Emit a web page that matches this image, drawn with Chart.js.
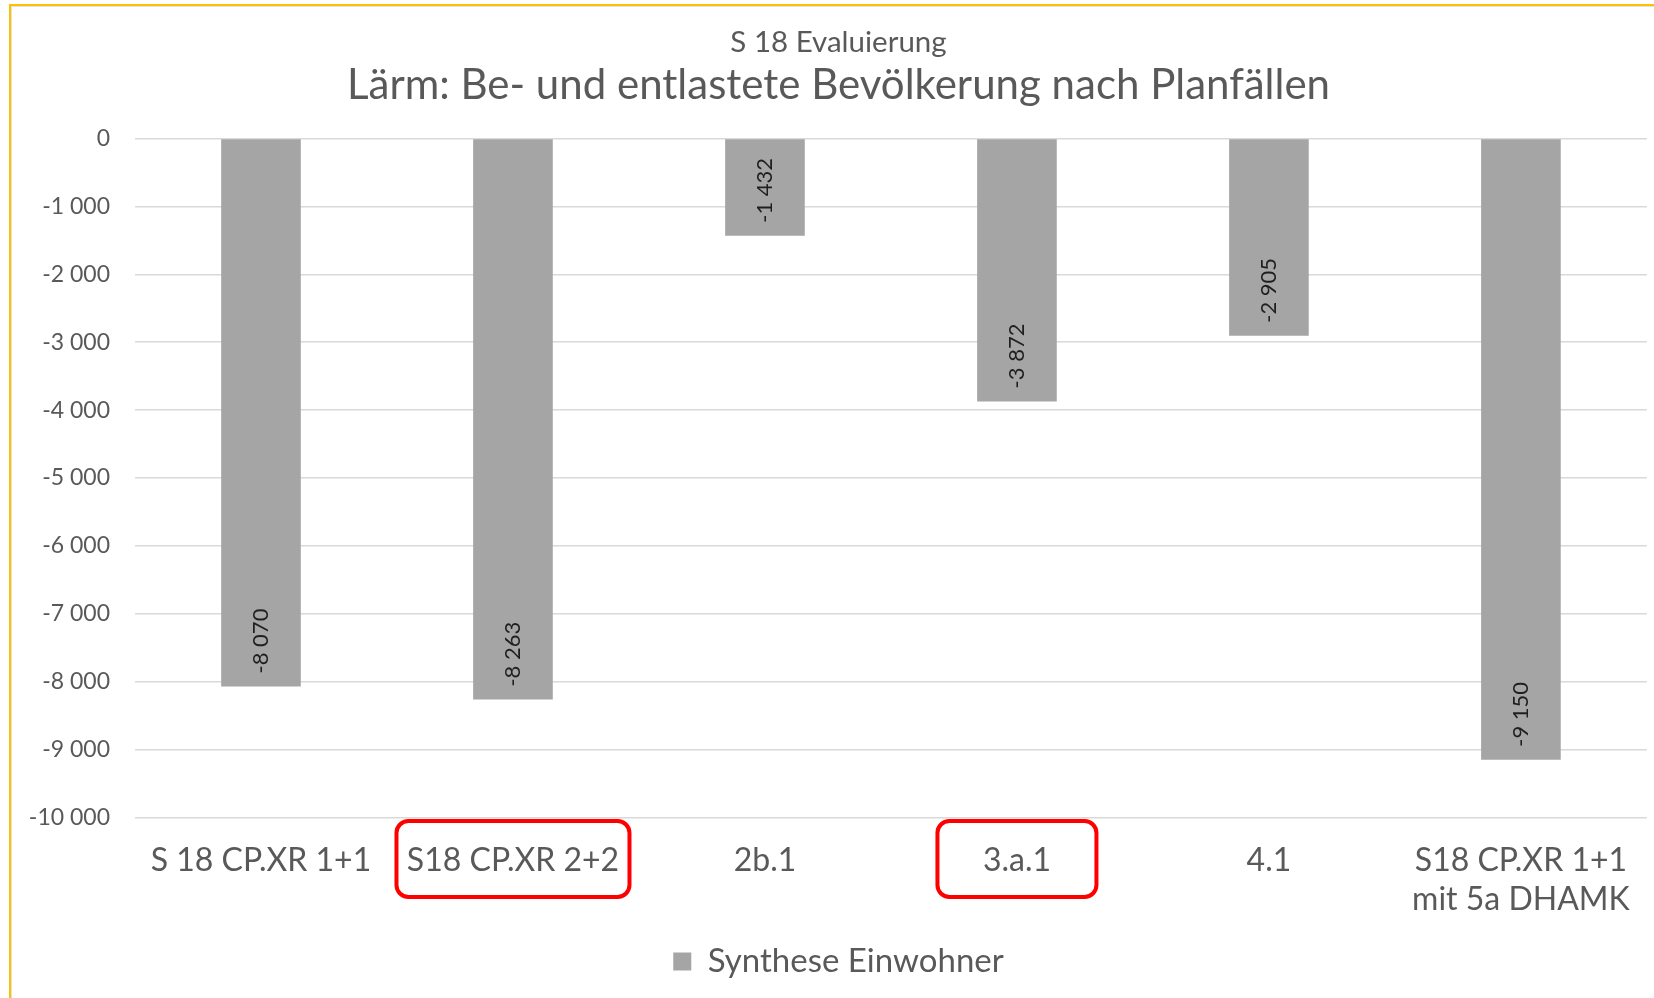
<!DOCTYPE html>
<html>
<head>
<meta charset="utf-8">
<script src="https://cdn.jsdelivr.net/npm/chart.js@4.4.1/dist/chart.umd.min.js"></script>
<style>
  html, body { margin: 0; padding: 0; background: #fff; overflow: hidden; }
  #wrap { position: relative; width: 1654px; height: 998px; }
  #frame {
    position: absolute; left: 9px; top: 4px; width: 1700px; height: 1100px;
    border-top: 2px solid #FFC000; border-left: 2px solid #FFC000;
    box-shadow: inset 1px 1px 0 #DCE3EA; pointer-events: none;
  }
  canvas { position: absolute; left: 0; top: 0; }
</style>
</head>
<body>
<div id="wrap">
  <div id="frame"></div>
  <canvas id="chart" width="1654" height="998"></canvas>
</div>
<script>
// Planfälle (x axis)
const categories = ['S 18 CP.XR 1+1', 'S18 CP.XR 2+2', '2b.1', '3.a.1', '4.1', ['S18 CP.XR 1+1', 'mit 5a DHAMK']];
// Synthese Einwohner
const synthese = [-8070, -8263, -1432, -3872, -2905, -9150];
// y axis range
const yMin = -10000;
const yMax = 0;
const yStep = 1000;
// categories marked with a red frame
const highlighted = ['S18 CP.XR 2+2', '3.a.1'];

const FONT = 'Lato';
const TEXT = '#595959';

const fmt = (v) => {
  const s = String(Math.abs(v)).replace(/\B(?=(\d{3})+(?!\d))/g, ' ');
  return (v < 0 ? '-' : '') + s;
};

// rotated value labels inside the bar end
const barLabels = {
  id: 'barLabels',
  afterDatasetsDraw(chart) {
    const { ctx } = chart;
    const meta = chart.getDatasetMeta(0);
    ctx.save();
    ctx.font = `22px ${FONT}`;
    ctx.fillStyle = '#1f1f1f';
    ctx.textAlign = 'left';
    ctx.textBaseline = 'middle';
    meta.data.forEach((bar, i) => {
      ctx.save();
      ctx.translate(bar.x, bar.y - 13);
      ctx.rotate(-Math.PI / 2);
      ctx.fillText(fmt(synthese[i]), 0, 0);
      ctx.restore();
    });
    ctx.restore();
  }
};

// red rounded frames round some category labels
const highlightBoxes = {
  id: 'highlightBoxes',
  afterDraw(chart, args, opts) {
    const { ctx } = chart;
    const x = chart.scales.x;
    ctx.save();
    ctx.strokeStyle = opts.color;
    ctx.lineWidth = opts.lineWidth;
    highlighted.forEach((name) => {
      const idx = categories.indexOf(name);
      const w = opts.widths[name];
      const cx = x.getPixelForTick(idx);
      const cy = x.top + opts.offsetY;
      ctx.beginPath();
      ctx.roundRect(cx - w / 2, cy - opts.height / 2, w, opts.height, opts.radius);
      ctx.stroke();
    });
    ctx.restore();
  }
};

new Chart(document.getElementById('chart'), {
  type: 'bar',
  data: {
    labels: categories,
    datasets: [{
      label: 'Synthese Einwohner',
      data: synthese,
      backgroundColor: '#A5A5A5',
      borderWidth: 0,
      categoryPercentage: 1,
      barPercentage: 0.316,
    }]
  },
  options: {
    responsive: false,
    animation: false,
    devicePixelRatio: 1,
    layout: { padding: { left: 26, right: 3, top: 0, bottom: 10 } },
    plugins: {
      title: {
        display: true,
        text: 'S 18 Evaluierung',
        color: TEXT,
        font: { family: FONT, size: 29.5, weight: 'normal', lineHeight: 1 },
        padding: { top: 27.5, bottom: 0 },
      },
      subtitle: {
        display: true,
        text: 'Lärm: Be- und entlastete Bevölkerung nach Planfällen',
        color: TEXT,
        font: { family: FONT, size: 42, weight: 'normal', lineHeight: 1 },
        padding: { top: 7.5, bottom: 32 },
      },
      legend: {
        position: 'bottom',
        labels: {
          color: TEXT,
          font: { family: FONT, size: 33 },
          boxWidth: 18,
          boxHeight: 18,
          padding: 10,
        },
      },
      tooltip: { enabled: false },
      highlightBoxes: {
        color: '#FF0000',
        lineWidth: 4,
        height: 76,
        radius: 12,
        offsetY: 41.5,
        widths: { 'S18 CP.XR 2+2': 233, '3.a.1': 159 },
      },
    },
    scales: {
      x: {
        grid: { display: false, drawTicks: false },
        border: { display: false },
        ticks: {
          color: TEXT,
          font: { family: FONT, size: 32, lineHeight: 1.22 },
          padding: 24,
          maxRotation: 0,
          autoSkip: false,
        },
        afterFit: (scale) => { scale.height = 117.5; },
      },
      y: {
        min: yMin,
        max: yMax,
        grid: { color: '#D9D9D9', lineWidth: 1.5, drawTicks: false },
        border: { display: false },
        ticks: {
          stepSize: yStep,
          color: TEXT,
          font: { family: FONT, size: 23 },
          padding: 25,
          callback: (v) => fmt(v),
        },
        afterFit: (scale) => { scale.width = 109; },
      },
    },
  },
  plugins: [barLabels, highlightBoxes],
});
</script>
</body>
</html>
